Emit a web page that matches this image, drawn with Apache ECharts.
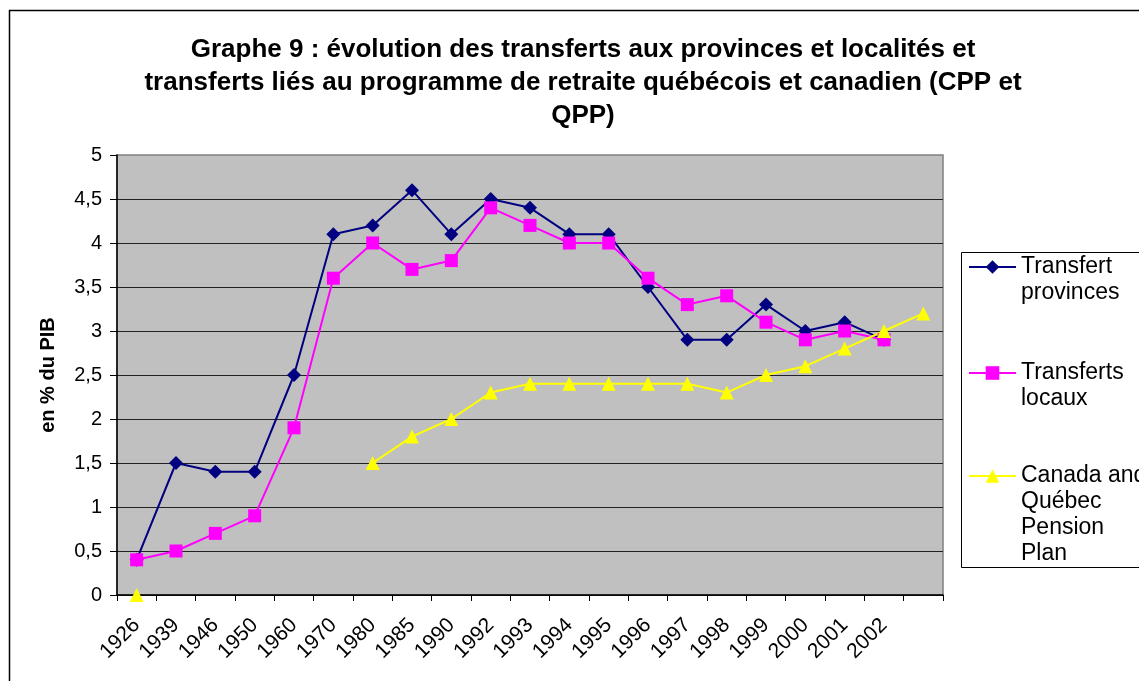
<!DOCTYPE html>
<html>
<head>
<meta charset="utf-8">
<script src="https://cdn.jsdelivr.net/npm/echarts@6/dist/echarts.min.js"></script>
<style>
html, body { margin: 0; padding: 0; background: #fff; }
#chart { width: 1139px; height: 681px; }
</style>
</head>
<body>
<div id="chart"></div>
<script>
// categories (last one has no label)
var annees = ['1926', '1939', '1946', '1950', '1960', '1970', '1980', '1985', '1990', '1992',
    '1993', '1994', '1995', '1996', '1997', '1998', '1999', '2000', '2001', '2002', ''];

// en % du PIB
var transfertProvinces = [0.4, 1.5, 1.4, 1.4, 2.5, 4.1, 4.2, 4.6, 4.1, 4.5,
    4.4, 4.1, 4.1, 3.5, 2.9, 2.9, 3.3, 3.0, 3.1, 2.9, null];
var transfertsLocaux = [0.4, 0.5, 0.7, 0.9, 1.9, 3.6, 4.0, 3.7, 3.8, 4.4,
    4.2, 4.0, 4.0, 3.6, 3.3, 3.4, 3.1, 2.9, 3.0, 2.9, null];
var pensionPlan = [0, null, null, null, null, null, 1.5, 1.8, 2.0, 2.3,
    2.4, 2.4, 2.4, 2.4, 2.4, 2.3, 2.5, 2.6, 2.8, 3.0, 3.2];

var yTicks = [0, 0.5, 1, 1.5, 2, 2.5, 3, 3.5, 4, 4.5, 5];

var police = 'Liberation Sans, Arial, sans-serif';

var noms = ['Transfert provinces', 'Transferts locaux', 'Canada and Québec Pension Plan'];
// texte de légende : lignes vides devant pour aligner la 1re ligne sur le symbole
var libelles = {
    'Transfert provinces': '\nTransfert\nprovinces',
    'Transferts locaux': '\nTransferts\nlocaux',
    'Canada and Québec Pension Plan': '\n\n\nCanada and\nQuébec\nPension\nPlan'
};

function legende(nom, top) {
    return {
        data: [nom],
        orient: 'vertical',
        left: 968,
        top: top,
        padding: 0,
        itemWidth: 47,
        itemHeight: 17,
        itemGap: 0,
        selectedMode: false,
        formatter: function (n) { return libelles[n]; },
        textStyle: { fontFamily: police, fontSize: 23, lineHeight: 26, color: '#000' }
    };
}

var myChart = echarts.init(document.getElementById('chart'));

var option = {
    backgroundColor: '#fff',
    animation: false,
    title: {
        text: 'Graphe 9 : évolution des transferts aux provinces et localités et\ntransferts liés au programme de retraite québécois et canadien (CPP et\nQPP)',
        left: 578,
        top: 28,
        textAlign: 'center',
        textStyle: { fontFamily: police, fontSize: 26, fontWeight: 'bold', lineHeight: 33, color: '#000' }
    },
    graphic: [{
        type: 'rect',
        z: -1,
        shape: { x: 9.5, y: 10.5, width: 1200, height: 800 },
        style: { fill: null, stroke: '#000', lineWidth: 1.5 }
    }, {
        type: 'rect',
        z: 1,
        shape: { x: 961.5, y: 252.5, width: 250, height: 315 },
        style: { fill: '#fff', stroke: '#000', lineWidth: 1 }
    }],
    legend: [
        legende(noms[0], 228),
        legende(noms[1], 334),
        legende(noms[2], 385)
    ],
    grid: {
        left: 117,
        top: 155,
        right: 196,
        bottom: 86,
        show: true,
        backgroundColor: '#c0c0c0',
        borderColor: '#808080',
        borderWidth: 1.5
    },
    xAxis: {
        type: 'category',
        data: annees,
        boundaryGap: true,
        axisLine: { lineStyle: { color: '#000', width: 1.5 } },
        axisTick: { show: true, length: 6, interval: 0, lineStyle: { color: '#000' } },
        axisLabel: {
            interval: 0,
            rotate: 45,
            margin: 27,
            fontFamily: police,
            fontSize: 21,
            color: '#000'
        }
    },
    yAxis: {
        type: 'value',
        min: 0,
        max: 5,
        interval: 0.5,
        name: 'en % du PIB',
        nameLocation: 'middle',
        nameRotate: 90,
        nameGap: 59,
        nameTextStyle: { fontFamily: police, fontSize: 20, fontWeight: 'bold', color: '#000' },
        axisLine: { show: true, lineStyle: { color: '#000', width: 1.5 } },
        axisTick: { show: true, length: 7, lineStyle: { color: '#000' } },
        axisLabel: {
            margin: 15,
            fontFamily: police,
            fontSize: 20,
            color: '#000',
            formatter: function (v) {
                return yTicks.indexOf(v) >= 0 ? String(v).replace('.', ',') : '';
            }
        },
        splitLine: { show: true, showMaxLine: false, lineStyle: { color: '#222', width: 1 } }
    },
    series: [{
        name: noms[0],
        type: 'line',
        data: transfertProvinces,
        symbol: 'diamond',
        symbolSize: 14,
        clip: false,
        connectNulls: false,
        itemStyle: { color: '#000080' },
        lineStyle: { color: '#000080', width: 2 }
    }, {
        name: noms[1],
        type: 'line',
        data: transfertsLocaux,
        symbol: 'rect',
        symbolSize: 13,
        clip: false,
        connectNulls: false,
        itemStyle: { color: '#ff00ff' },
        lineStyle: { color: '#ff00ff', width: 2 }
    }, {
        name: noms[2],
        type: 'line',
        data: pensionPlan,
        symbol: 'triangle',
        symbolSize: 14,
        clip: false,
        connectNulls: false,
        itemStyle: { color: '#ffff00' },
        lineStyle: { color: '#ffff00', width: 2 }
    }]
};

myChart.setOption(option);
</script>
</body>
</html>
